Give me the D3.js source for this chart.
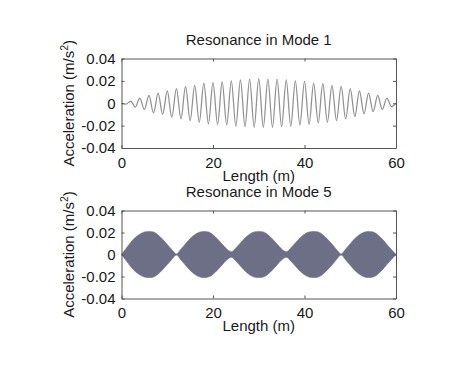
<!DOCTYPE html>
<html>
<head>
<meta charset="utf-8">
<script src="https://cdn.jsdelivr.net/npm/d3@7/dist/d3.min.js"></script>
<style>
html,body{margin:0;padding:0;background:#fff;}
svg{display:block;}
text{font-family:"Liberation Sans",Arial,Helvetica,sans-serif;fill:#1a1a1a;}
</style>
</head>
<body>
<svg id="chart" width="454" height="371"></svg>
<script>
// ---- data ----
const titles = ["Resonance in Mode 1", "Resonance in Mode 5"];
const xLabel = "Length (m)";
const xTicks = [0, 20, 40, 60];
const yTicks = [-0.04, -0.02, 0, 0.02, 0.04];
const yTickLabels = ["-0.04", "-0.02", "0", "0.02", "0.04"];

// Mode 1: position (m) of each extremum of the oscillation and its value (m/s^2)
const mode1X = [0,1,2,3,4,5,6,7,8,9,10,11,12,13,14,15,16,17,18,19,20,21,22,23,24,25,26,27,28,29,30,
                31,32,33,34,35,36,37,38,39,40,41,42,43,44,45,46,47,48,49,50,51,52,53,54,55,56,57,58,59,60];
const mode1Y = [0,-0.0008,0.002,-0.0034,0.0045,-0.0056,0.007,-0.0088,0.009,-0.010,0.011,-0.0125,0.013,-0.014,0.015,-0.0155,
                0.016,-0.017,0.018,-0.0185,0.0185,-0.019,0.019,-0.0195,0.020,-0.0205,0.021,-0.021,0.0215,-0.0215,0.022,
                -0.0215,0.0215,-0.0215,0.0215,-0.021,0.021,-0.0205,0.020,-0.0195,0.0195,-0.019,0.018,-0.0175,0.0175,-0.017,
                0.016,-0.0155,0.015,-0.014,0.013,-0.012,0.011,-0.0095,0.009,-0.0075,0.007,-0.0055,0.0045,-0.003,0];

// Mode 5: envelope of the (very dense) response, sampled every metre
const mode5X = mode1X;
const mode5Env = [0,0.0055,0.011,0.0155,0.0185,0.0205,0.021,0.0205,0.0178,0.0138,0.0092,0.0045,0.0005,
                  0.005,0.0098,0.0145,0.018,0.0202,0.021,0.0205,0.018,0.014,0.0095,0.005,0.0025,
                  0.006,0.0105,0.015,0.0185,0.0205,0.021,0.0205,0.018,0.014,0.0095,0.005,0.0025,
                  0.006,0.0105,0.015,0.0185,0.0205,0.021,0.0205,0.018,0.014,0.0095,0.0045,0.0005,
                  0.005,0.0098,0.0145,0.018,0.0202,0.021,0.0205,0.018,0.014,0.0092,0.0045,0];

// ---- layout ----
const svg = d3.select("#chart");
const FS = 15;
const L = 121.5, R = 396;
const panels = [{top: 58.5, bottom: 148}, {top: 210.5, bottom: 298.5}];
const axisColor = "#555";

const x = d3.scaleLinear().domain([0, 60]).range([L, R]);

panels.forEach((p, i) => {
  const y = d3.scaleLinear().domain([-0.04, 0.04]).range([p.bottom, p.top]);
  const g = svg.append("g");

  // data
  if (i === 0) {
    const pts = mode1X.map((d, k) => [d, mode1Y[k]]);
    g.append("path")
      .attr("d", d3.line().x(d => x(d[0])).y(d => y(d[1])).curve(d3.curveMonotoneX)(pts))
      .attr("fill", "none").attr("stroke", "#909090").attr("stroke-width", 1.25);
  } else {
    const pts = mode5X.map((d, k) => [d, mode5Env[k]]);
    g.append("path")
      .attr("d", d3.area().x(d => x(d[0])).y0(d => y(-d[1])).y1(d => y(d[1])).curve(d3.curveMonotoneX)(pts))
      .attr("fill", "#6d6f87").attr("stroke", "#6d6f87").attr("stroke-width", 0.6);
  }

  // axes (ticks inward on all four sides)
  const styleAxis = sel => {
    sel.select(".domain").attr("stroke", axisColor).attr("stroke-width", 1);
    sel.selectAll(".tick line").attr("stroke", axisColor);
    sel.selectAll("text").attr("font-size", FS).attr("fill", "#1a1a1a")
      .attr("font-family", "'Liberation Sans',Arial,sans-serif");
  };
  g.append("g").attr("transform", `translate(0,${p.bottom})`)
    .call(d3.axisBottom(x).tickValues(xTicks).tickFormat(d3.format("d")).tickSizeInner(-3).tickSizeOuter(0).tickPadding(9))
    .call(styleAxis);
  g.append("g").attr("transform", `translate(0,${p.top})`)
    .call(d3.axisTop(x).tickValues(xTicks).tickFormat("").tickSizeInner(-3).tickSizeOuter(0))
    .call(styleAxis);
  g.append("g").attr("transform", `translate(${L},0)`)
    .call(d3.axisLeft(y).tickValues(yTicks).tickFormat((d, k) => yTickLabels[k]).tickSizeInner(-3).tickSizeOuter(0).tickPadding(6))
    .call(styleAxis);
  g.append("g").attr("transform", `translate(${R},0)`)
    .call(d3.axisRight(y).tickValues(yTicks).tickFormat("").tickSizeInner(-3).tickSizeOuter(0))
    .call(styleAxis);

  // title
  svg.append("text").attr("x", (L + R) / 2).attr("y", p.top - 14)
    .attr("text-anchor", "middle").attr("font-size", FS).text(titles[i]);
  // x label
  svg.append("text").attr("x", (L + R) / 2).attr("y", p.bottom + 32.5)
    .attr("text-anchor", "middle").attr("font-size", FS).text(xLabel);
  // y label
  const yl = svg.append("text")
    .attr("transform", `translate(73.5,${(p.top + p.bottom) / 2}) rotate(-90)`)
    .attr("text-anchor", "middle").attr("font-size", FS);
  yl.append("tspan").text("Acceleration (m/s");
  yl.append("tspan").attr("font-size", FS * 0.7).attr("dy", -6).text("2");
  yl.append("tspan").attr("dy", 6).text(")");
});
</script>
</body>
</html>
